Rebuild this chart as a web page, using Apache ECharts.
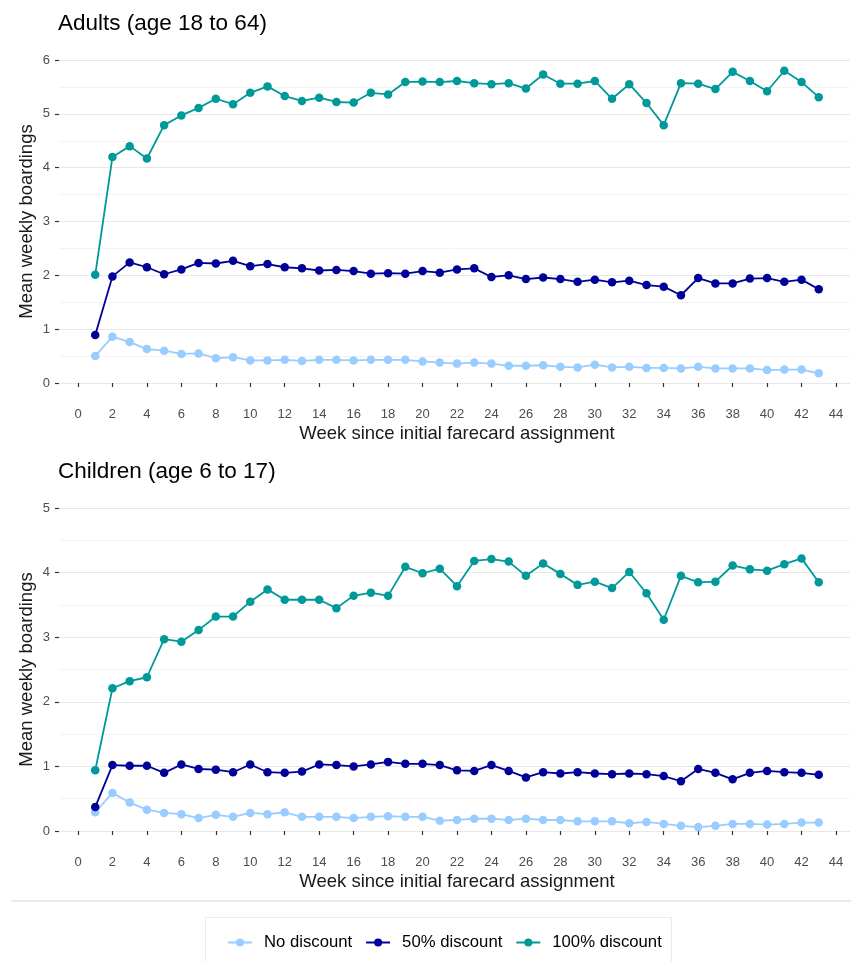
<!DOCTYPE html>
<html>
<head>
<meta charset="utf-8">
<script src="https://cdn.jsdelivr.net/npm/echarts@6/dist/echarts.min.js"></script>
<style>
  html, body { margin: 0; padding: 0; background: #fff; }
  #chart { width: 851px; height: 962px; }
</style>
</head>
<body>
<div id="chart"></div>
<script>
// Weeks since initial farecard assignment
const weeks = Array.from({ length: 43 }, (_, i) => i + 1);

// Mean weekly boardings, adults (age 18 to 64)
const adultsNoDiscount = [0.50,0.86,0.76,0.63,0.60,0.54,0.55,0.46,0.48,0.42,0.42,0.43,0.41,0.43,0.43,0.42,0.43,0.43,0.43,0.40,0.38,0.36,0.38,0.36,0.32,0.32,0.33,0.30,0.29,0.34,0.29,0.30,0.28,0.28,0.27,0.30,0.27,0.27,0.27,0.24,0.25,0.25,0.18];
const adults50 = [0.89,1.98,2.24,2.15,2.02,2.11,2.23,2.22,2.27,2.17,2.21,2.15,2.13,2.09,2.10,2.08,2.03,2.04,2.03,2.08,2.05,2.11,2.13,1.97,2.00,1.93,1.96,1.93,1.88,1.92,1.87,1.90,1.82,1.79,1.63,1.95,1.85,1.85,1.94,1.95,1.88,1.92,1.74];
const adults100 = [2.01,4.20,4.40,4.17,4.79,4.97,5.11,5.28,5.18,5.39,5.51,5.33,5.24,5.30,5.22,5.21,5.39,5.36,5.59,5.60,5.59,5.61,5.57,5.55,5.57,5.47,5.73,5.56,5.56,5.61,5.28,5.55,5.20,4.79,5.57,5.56,5.46,5.78,5.61,5.42,5.80,5.59,5.31];

// Mean weekly boardings, children (age 6 to 17)
const childrenNoDiscount = [0.29,0.59,0.44,0.33,0.28,0.26,0.20,0.25,0.22,0.28,0.26,0.29,0.22,0.22,0.22,0.20,0.22,0.23,0.22,0.22,0.16,0.17,0.19,0.19,0.17,0.19,0.17,0.17,0.15,0.15,0.15,0.12,0.14,0.11,0.08,0.06,0.08,0.11,0.11,0.10,0.11,0.13,0.13];
const children50 = [0.37,1.02,1.01,1.01,0.90,1.03,0.96,0.95,0.91,1.03,0.91,0.90,0.92,1.03,1.02,1.00,1.03,1.07,1.04,1.04,1.02,0.94,0.93,1.02,0.93,0.83,0.91,0.89,0.91,0.89,0.88,0.89,0.88,0.85,0.77,0.96,0.90,0.80,0.90,0.93,0.91,0.90,0.87];
const children100 = [0.94,2.21,2.32,2.38,2.97,2.93,3.11,3.32,3.32,3.55,3.74,3.58,3.58,3.58,3.45,3.64,3.69,3.64,4.09,3.99,4.06,3.79,4.18,4.21,4.17,3.95,4.14,3.98,3.81,3.86,3.76,4.01,3.68,3.27,3.95,3.85,3.86,4.11,4.05,4.03,4.13,4.22,3.85];

const groupNames = ['No discount', '50% discount', '100% discount'];
const groupColors = ['#99CCFF', '#000099', '#009999'];
const panelTitles = ['Adults (age 18 to 64)', 'Children (age 6 to 17)'];
const panelMax = [6, 5];
const xTitle = 'Week since initial farecard assignment';
const yTitle = 'Mean weekly boardings';

const FONT = '"Liberation Sans", Arial, sans-serif';
const panelTops = [60, 508];
const panelHeight = 323;

const chart = echarts.init(document.getElementById('chart'), null, { renderer: 'canvas' });

const grids = [];
const xAxes = [];
const yAxes = [];
panelTops.forEach((top, p) => {
  // background grid: horizontal grid lines and y labels
  grids.push({ left: 59, right: 1, top: top, height: panelHeight });
  // data grid: week scale 0..44
  grids.push({ left: 78, right: 15, top: top, height: panelHeight });

  xAxes.push({ gridIndex: 2 * p, type: 'value', min: 0, max: 1, show: false });
  xAxes.push({
    gridIndex: 2 * p + 1, type: 'value', min: 0, max: 44, interval: 2,
    offset: 17,
    axisLine: { show: false },
    axisTick: { show: true, length: 4, lineStyle: { color: '#333', width: 1.2 } },
    axisLabel: { color: '#4d4d4d', fontSize: 13, fontFamily: FONT, margin: 8 },
    splitLine: { show: false },
    name: xTitle, nameLocation: 'middle', nameGap: 24,
    nameTextStyle: { color: '#1a1a1a', fontSize: 18.5, fontFamily: FONT }
  });

  yAxes.push({
    gridIndex: 2 * p, type: 'value', min: 0, max: panelMax[p], interval: 1,
    axisLine: { show: false },
    axisTick: { show: true, length: 4, lineStyle: { color: '#333', width: 1.2 } },
    axisLabel: { color: '#4d4d4d', fontSize: 13, fontFamily: FONT, margin: 9 },
    splitLine: { show: true, lineStyle: { color: '#e8e8e8', width: 1.2 } },
    minorTick: { show: false, splitNumber: 2 },
    minorSplitLine: { show: true, lineStyle: { color: '#f3f3f3', width: 1 } },
    name: yTitle, nameLocation: 'middle', nameGap: 23, nameMoveOverlap: false,
    nameTextStyle: { color: '#1a1a1a', fontSize: 18.5, fontFamily: FONT }
  });
  yAxes.push({ gridIndex: 2 * p + 1, type: 'value', min: 0, max: panelMax[p], show: false });
});

const panelData = [
  [adultsNoDiscount, adults50, adults100],
  [childrenNoDiscount, children50, children100]
];

const series = [];
panelData.forEach((groups, p) => {
  groups.forEach((vals, g) => {
    series.push({
      type: 'line',
      name: groupNames[g],
      xAxisIndex: 2 * p + 1,
      yAxisIndex: 2 * p + 1,
      data: weeks.map((w, i) => [w, vals[i]]),
      symbol: 'circle',
      symbolSize: 8.5,
      showSymbol: true,
      lineStyle: { color: groupColors[g], width: 1.8 },
      itemStyle: { color: groupColors[g] },
      emphasis: { disabled: true },
      animation: false,
      z: 2 + g
    });
  });
});

chart.setOption({
  backgroundColor: '#fff',
  animation: false,
  title: panelTitles.map((t, p) => ({
    text: t,
    left: 58,
    top: p === 0 ? 12 : 460,
    padding: 0,
    textStyle: { color: '#000', fontSize: 22.5, fontWeight: 'normal', fontFamily: FONT }
  })),
  grid: grids,
  xAxis: xAxes,
  yAxis: yAxes,
  legend: {
    data: groupNames,
    left: 227,
    top: 934,
    padding: 0,
    itemWidth: 24,
    itemHeight: 10,
    itemGap: 13,
    textStyle: { color: '#000', fontSize: 16.7, fontFamily: FONT, padding: [0, 0, 0, 7] },
    selectedMode: false
  },
  graphic: [
    {
      type: 'line',
      shape: { x1: 11, y1: 901, x2: 851, y2: 901 },
      style: { stroke: '#d4d4d4', lineWidth: 1.2 },
      silent: true
    },
    {
      type: 'rect',
      shape: { x: 205.5, y: 917.5, width: 466, height: 60 },
      style: { fill: 'none', stroke: '#ececec', lineWidth: 1 },
      silent: true
    }
  ],
  series: series
});
</script>
</body>
</html>
